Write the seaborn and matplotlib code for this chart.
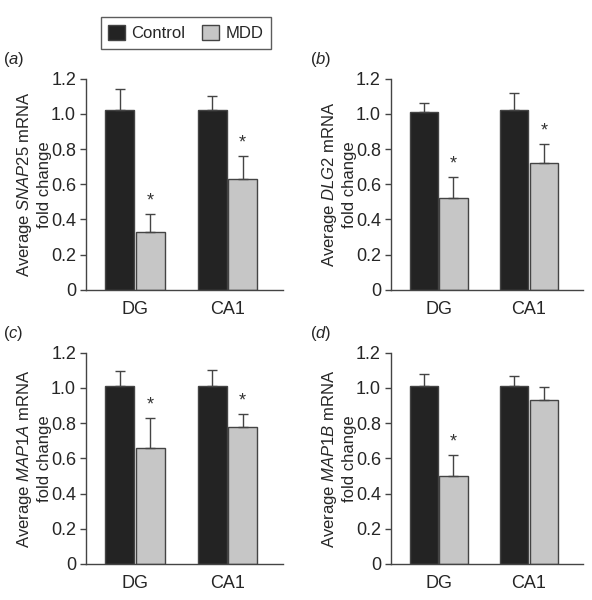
import matplotlib
matplotlib.use("Agg")
import matplotlib.pyplot as plt
from matplotlib.patches import Patch
import seaborn as sns
import pandas as pd

# data
regions = ["DG", "CA1"]
groups = ["Control", "MDD"]
genes = ["SNAP25", "DLG2", "MAP1A", "MAP1B"]
panel_tags = ["a", "b", "c", "d"]

control_mean = [[1.02, 1.02], [1.01, 1.02], [1.01, 1.01], [1.01, 1.01]]
control_err = [[0.12, 0.08], [0.05, 0.10], [0.085, 0.095], [0.07, 0.06]]
mdd_mean = [[0.33, 0.63], [0.52, 0.72], [0.66, 0.78], [0.50, 0.93]]
mdd_err = [[0.10, 0.13], [0.12, 0.11], [0.17, 0.075], [0.12, 0.075]]
significant = [[True, True], [True, True], [True, True], [True, False]]

yticks = [0, 0.2, 0.4, 0.6, 0.8, 1.0, 1.2]
ytick_labels = ["0", "0.2", "0.4", "0.6", "0.8", "1.0", "1.2"]

colors = {"Control": "#232323", "MDD": "#c6c6c6"}
edge = "#444444"

sns.set_theme(style="ticks")
plt.rcParams["font.family"] = ["Liberation Sans", "DejaVu Sans"]
plt.rcParams["mathtext.fontset"] = "custom"
plt.rcParams["mathtext.rm"] = "Liberation Sans"
plt.rcParams["mathtext.it"] = "Liberation Sans:italic"

fig = plt.figure(figsize=(5.92, 6.0), dpi=100)
positions = [
    [0.145, 0.517, 0.333, 0.352],
    [0.660, 0.517, 0.325, 0.352],
    [0.145, 0.060, 0.333, 0.352],
    [0.660, 0.060, 0.325, 0.352],
]

for i, gene in enumerate(genes):
    ax = fig.add_axes(positions[i])
    df = pd.DataFrame({
        "region": regions * 2,
        "group": ["Control"] * 2 + ["MDD"] * 2,
        "value": control_mean[i] + mdd_mean[i],
        "err": control_err[i] + mdd_err[i],
    })
    sns.barplot(data=df, x="region", y="value", hue="group", order=regions,
                hue_order=groups, palette=colors, width=0.66, gap=0.06,
                edgecolor=edge, linewidth=1.0, saturation=1, legend=False,
                errorbar=None, ax=ax)

    # error bars (upper only) and significance stars
    bars = sorted(ax.patches, key=lambda p: p.get_x())
    errs = [control_err[i][0], mdd_err[i][0], control_err[i][1], mdd_err[i][1]]
    stars = [False, significant[i][0], False, significant[i][1]]
    for p, e, s in zip(bars, errs, stars):
        xc = p.get_x() + p.get_width() / 2
        h = p.get_height()
        ax.errorbar(xc, h, yerr=[[0], [e]], fmt="none", ecolor=edge,
                    elinewidth=1.0, capsize=3.5, capthick=1.0)
        if s:
            ax.text(xc, h + e + 0.025, "*", ha="center", va="bottom",
                    fontsize=13, color="#333333")

    ax.set_xlim(-0.53, 1.6)
    ax.set_ylim(0, 1.2)
    ax.set_yticks(yticks)
    ax.set_yticklabels(ytick_labels)
    ax.tick_params(axis="y", length=4, width=1, color=edge, labelsize=13,
                   pad=3, direction="out")
    ax.tick_params(axis="x", length=0, labelsize=13, pad=8)
    ax.set_xlabel("")
    ax.set_ylabel("Average $\\it{" + gene + "}$ mRNA\nfold change",
                  fontsize=12, labelpad=-1, linespacing=1.3)
    sns.despine(ax=ax)
    for side in ["left", "bottom"]:
        ax.spines[side].set_color(edge)
        ax.spines[side].set_linewidth(1.0)

    ax.text(-0.42, 1.09, "($\\it{" + panel_tags[i] + "}$)", transform=ax.transAxes,
            fontsize=12, ha="left", va="center")

handles = [Patch(facecolor=colors[g], edgecolor=edge, label=g) for g in groups]
leg = fig.legend(handles=handles, loc="center", bbox_to_anchor=(0.314, 0.945),
                 ncol=2, frameon=True, fancybox=False, fontsize=12,
                 handlelength=1.0, handleheight=1.0, handletextpad=0.4,
                 columnspacing=1.0, borderpad=0.45)
leg.get_frame().set_edgecolor("#333333")
leg.get_frame().set_linewidth(1.0)

fig.savefig("out.png", dpi=100)
